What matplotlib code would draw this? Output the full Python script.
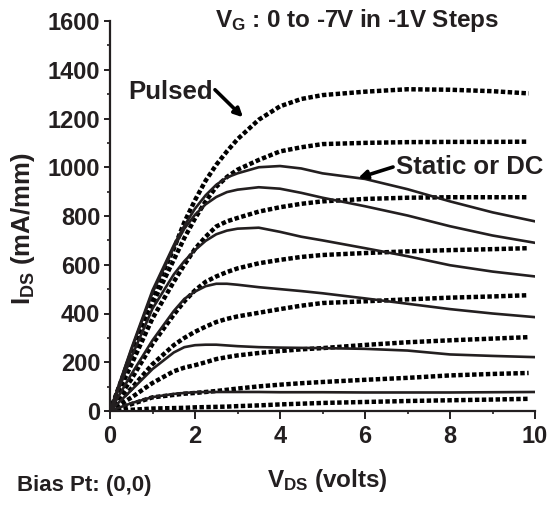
import numpy as np
import matplotlib
matplotlib.use("Agg")
import matplotlib.pyplot as plt

plt.rcParams['font.family'] = ['Liberation Sans', 'DejaVu Sans']
plt.rcParams['font.weight'] = 'bold'
plt.rcParams['mathtext.fontset'] = 'custom'
plt.rcParams['mathtext.rm'] = 'Liberation Sans:bold'
plt.rcParams['mathtext.it'] = 'Liberation Sans:bold'
plt.rcParams['mathtext.bf'] = 'Liberation Sans:bold'

INK = '#231f20'

# ---- data ----
vds = [0, 0.5, 1, 1.5, 1.75, 2, 2.25, 2.5, 2.75, 3, 3.5, 4, 4.5, 5, 6, 7, 8, 9, 10]
vds_pulsed = [0, 0.5, 1, 1.5, 1.75, 2, 2.25, 2.5, 2.75, 3, 3.5, 4, 4.5, 5, 6, 7, 8, 9, 9.85]

# Pulsed I-V, VG = 0 ... -7 V
pulsed_vg0 = [0, 235, 475, 665, 775, 865, 945, 1010, 1065, 1115, 1195, 1250, 1280, 1296, 1310, 1320, 1318, 1312, 1303]
pulsed_vg1 = [0, 220, 440, 620, 710, 790, 860, 920, 960, 990, 1030, 1065, 1082, 1095, 1100, 1103, 1104, 1104, 1105]
pulsed_vg2 = [0, 190, 380, 530, 600, 665, 715, 757, 778, 792, 818, 836, 850, 860, 870, 875, 877, 877, 877]
pulsed_vg3 = [0, 130, 275, 395, 450, 495, 530, 552, 570, 585, 606, 620, 632, 640, 648, 655, 660, 664, 668]
pulsed_vg4 = [0, 92, 192, 270, 300, 325, 346, 365, 378, 388, 403, 418, 432, 443, 450, 458, 465, 470, 475]
pulsed_vg5 = [0, 55, 115, 163, 178, 188, 200, 213, 221, 228, 238, 246, 253, 258, 271, 282, 290, 297, 303]
pulsed_vg6 = [0, 28, 56, 66, 71, 74, 78, 82, 87, 92, 101, 108, 114, 119, 128, 136, 146, 152, 156]
pulsed_vg7 = [0, 5, 10, 12, 13, 15, 16, 17, 18, 20, 23, 27, 30, 33, 37, 41, 44, 47, 50]

# Static (DC) I-V, VG = 0 ... -6 V
dc_vg0 = [0, 255, 495, 680, 760, 830, 885, 928, 958, 975, 1000, 1005, 995, 975, 952, 910, 860, 815, 778]
dc_vg1 = [0, 250, 485, 670, 748, 805, 848, 878, 898, 908, 918, 912, 895, 875, 840, 802, 758, 720, 690]
dc_vg2 = [0, 220, 420, 560, 615, 660, 698, 725, 740, 748, 752, 735, 715, 700, 668, 635, 598, 572, 552]
dc_vg3 = [0, 150, 290, 410, 460, 490, 512, 522, 522, 518, 508, 500, 492, 483, 462, 440, 418, 400, 385]
dc_vg4 = [0, 85, 172, 240, 262, 270, 272, 272, 269, 266, 262, 260, 259, 258, 255, 248, 232, 226, 221]
dc_vg5 = [0, 32, 57, 70, 74, 77, 78, 78, 78, 78, 78, 77, 77, 77, 76, 76, 76, 77, 78]
dc_vg6 = [0] * len(vds)

x_ticks = [0, 2, 4, 6, 8, 10]
y_ticks = [0, 200, 400, 600, 800, 1000, 1200, 1400, 1600]

pulsed = [pulsed_vg0, pulsed_vg1, pulsed_vg2, pulsed_vg3,
          pulsed_vg4, pulsed_vg5, pulsed_vg6, pulsed_vg7]
dc = [dc_vg0, dc_vg1, dc_vg2, dc_vg3, dc_vg4, dc_vg5, dc_vg6]

fig = plt.figure(figsize=(5.53, 5.05), dpi=100)
ax = fig.add_axes([110/553, 1-411/505, 425/553, 390/505])

for ys in dc:
    ax.plot(vds, ys, color=INK, lw=1.9, solid_joinstyle='round', zorder=3)
for ys in pulsed:
    ax.plot(vds_pulsed, ys, color='black', lw=3.2,
            linestyle=(0, (1.0, 0.55)), dash_capstyle='butt', zorder=2)

ax.set_xlim(0, 10)
ax.set_ylim(0, 1600)
ax.set_xticks(x_ticks)
ax.set_yticks(y_ticks)
ax.set_xticks(np.arange(0, 11, 1), minor=True)
ax.set_yticks(np.arange(0, 1601, 100), minor=True)
for s in ['top', 'right']:
    ax.spines[s].set_visible(False)
for s in ['left', 'bottom']:
    ax.spines[s].set_linewidth(1.6)
    ax.spines[s].set_color(INK)
ax.tick_params(axis='x', which='major', direction='out', length=6, width=1.4,
               colors=INK, labelsize=17, pad=4)
ax.tick_params(axis='x', which='minor', direction='out', length=2.5, width=1.2, colors=INK)
ax.tick_params(axis='y', which='major', direction='out', length=4, width=1.4,
               colors=INK, labelsize=17, pad=3)
ax.tick_params(axis='y', which='minor', direction='out', length=2.5, width=1.2, colors=INK)
for lab in ax.get_xticklabels() + ax.get_yticklabels():
    lab.set_fontweight('bold')

fig.text(23/553, 1-229/505, r'$I_{DS}$ (mA/mm)', rotation=90, ha='center', va='center',
         fontsize=18.5, fontweight='bold', color=INK)
fig.text(327/553, 1-480/505, r'$V_{DS}$ (volts)', ha='center', va='center',
         fontsize=17.5, fontweight='bold', color=INK)
fig.text(17/553, 1-485/505, 'Bias Pt: (0,0)', ha='left', va='center',
         fontsize=16, fontweight='bold', color=INK)
fig.text(357/553, 1-21/505, r'$V_G$ : 0 to -7V in -1V Steps', ha='center', va='center',
         fontsize=17.5, fontweight='bold', color=INK)

arrow_style = dict(arrowstyle='-|>,head_length=0.5,head_width=0.25',
                   lw=2.6, color='black', shrinkA=0, shrinkB=0)
ax.text(2.42, 1308, 'Pulsed', ha='right', va='center',
        fontsize=18.5, fontweight='bold', color=INK)
ax.annotate('', xy=(3.13, 1205), xytext=(2.47, 1318), arrowprops=arrow_style)
ax.text(6.72, 1001, 'Static or DC', ha='left', va='center',
        fontsize=18.5, fontweight='bold', color=INK)
ax.annotate('', xy=(5.84, 956), xytext=(6.66, 1001), arrowprops=arrow_style)

fig.savefig('out.png', dpi=100)
